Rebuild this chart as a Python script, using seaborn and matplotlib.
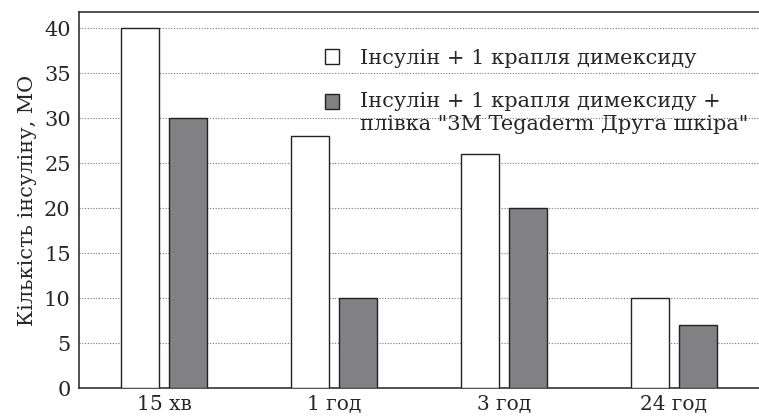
import pandas as pd
import numpy as np
import matplotlib.pyplot as plt
import matplotlib.patches as mpatches
from matplotlib.legend_handler import HandlerPatch
import seaborn as sns

# Дані з графіка
CATEGORIES = ["15 хв", "1 год", "3 год", "24 год"]
SERIES = ["Інсулін + 1 крапля димексиду",
          "Інсулін + 1 крапля димексиду +\nплівка \"3M Tegaderm Друга шкіра\""]
VALUES_1 = [40, 28, 26, 10]
VALUES_2 = [30, 10, 20, 7]
Y_TICKS = [0, 5, 10, 15, 20, 25, 30, 35, 40]

df = pd.DataFrame({
    "time": CATEGORIES * 2,
    "series": [SERIES[0]] * 4 + [SERIES[1]] * 4,
    "value": VALUES_1 + VALUES_2,
})

sns.set_style("white")
plt.rcParams['font.family'] = ['DejaVu Serif']
plt.rcParams['font.size'] = 15

fig = plt.figure(figsize=(7.59, 4.2), dpi=100)
ax = fig.add_axes([79 / 759, 1 - 388 / 420, 1 - 79 / 759, (388 - 12) / 420])

sns.barplot(data=df, x="time", y="value", hue="series", ax=ax,
            palette=["white", "#808184"], width=0.565, gap=0.227,
            edgecolor="#222222", linewidth=1.0, errorbar=None, zorder=3)

ax.set_ylim(0, 41.8)
ax.set_xlim(-0.5, 3.5)
ax.set_yticks(Y_TICKS)
ax.yaxis.grid(True, linestyle=(0, (1, 1.5)), color="#777777", linewidth=0.8, zorder=0)
ax.set_axisbelow(True)
ax.tick_params(axis="y", direction="in", length=3, width=1, color="#333333",
               labelsize=15, pad=6)
ax.tick_params(axis="x", length=0, labelsize=14.5, pad=5)
ax.set_xlabel("")
ax.set_ylabel("Кількість інсуліну, МО", fontsize=15, labelpad=5)

for side in ["left", "bottom", "top"]:
    ax.spines[side].set_color("#333333")
    ax.spines[side].set_linewidth(1.2)
ax.spines["right"].set_visible(False)


def top_square(legend, orig_handle, xdescent, ydescent, width, height, fontsize):
    # квадратик на рівні першого рядка підпису
    shift = (height * 0.8) if "\n" in orig_handle.get_label() else 0
    return mpatches.Rectangle((-xdescent, -ydescent + shift), width, height)


handles, labels = ax.get_legend_handles_labels()
for h, lab in zip(handles, labels):
    h.set_label(lab)
leg = ax.legend(handles, labels, loc="upper left", bbox_to_anchor=(0.349, 0.924),
                frameon=False, fontsize=15, handlelength=0.7, handleheight=0.7,
                handletextpad=1.0, labelspacing=1.15, borderaxespad=0,
                handler_map={mpatches.Rectangle: HandlerPatch(patch_func=top_square)})
for h in leg.legend_handles:
    h.set_edgecolor("#222222")
for t in leg.get_texts():
    t.set_linespacing(1.3)

plt.savefig("out.png", dpi=100)
plt.close()
